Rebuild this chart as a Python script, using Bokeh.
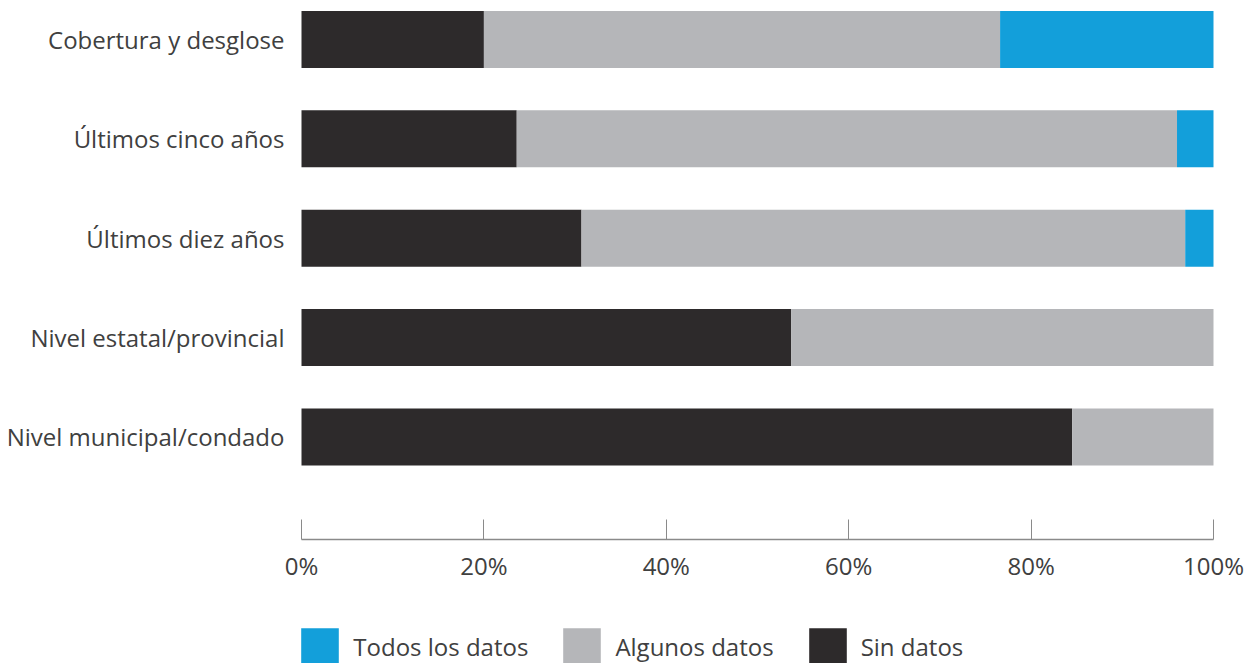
from bokeh.plotting import figure
from bokeh.models import (ColumnDataSource, Range1d, LinearAxis, FixedTicker,
                          Legend, LegendItem)
from bokeh.embed import file_html
from bokeh.resources import INLINE

# Share of respondents (%) per data dimension
categories = ["Cobertura y desglose", "Últimos cinco años", "Últimos diez años",
              "Nivel estatal/provincial", "Nivel municipal/condado"]
sin_datos = [20.0, 23.6, 30.7, 53.7, 84.5]
algunos_datos = [56.6, 72.4, 66.2, 46.3, 15.5]
todos_datos = [23.4, 4.0, 3.1, 0.0, 0.0]
x_ticks = [0, 20, 40, 60, 80, 100]
x_tick_labels = ["0%", "20%", "40%", "60%", "80%", "100%"]

series_names = ["Sin datos", "Algunos datos", "Todos los datos"]
colors = ["#2d2a2b", "#b5b6b9", "#139fda"]
FONT = "Open Sans"
TEXT = "#404040"

# The plot area spans the whole canvas; axes are pinned at data positions so
# the category labels, tick labels and legend all live inside it.
X_LEFT, X_RIGHT = -33.004, 105.044
Y_TOP, Y_BOTTOM = -0.392, 6.280
X_AXIS_AT = 5.031

source = ColumnDataSource(dict(
    y=list(range(len(categories))),
    sin=sin_datos,
    algunos=algunos_datos,
    todos=todos_datos,
))

p = figure(width=1259, height=663, output_backend="svg", toolbar_location=None,
           x_range=Range1d(X_LEFT, X_RIGHT), y_range=Range1d(Y_BOTTOM, Y_TOP),
           x_axis_location=None, y_axis_location=None,
           min_border_left=0, min_border_right=0,
           min_border_top=0, min_border_bottom=0)
p.outline_line_color = None
p.xgrid.visible = False
p.ygrid.visible = False
p.background_fill_color = "white"
p.border_fill_color = "white"

renderers = p.hbar_stack(["sin", "algunos", "todos"], y="y", height=0.574,
                         color=colors, line_color=None, source=source)

# Category labels to the left of the bars
yaxis = LinearAxis(ticker=FixedTicker(ticks=list(range(len(categories)))),
                   fixed_location=0, bounds=(0, len(categories) - 1),
                   major_label_overrides={i: c for i, c in enumerate(categories)})
yaxis.axis_line_color = None
yaxis.major_tick_line_color = None
yaxis.minor_tick_line_color = None
yaxis.major_tick_out = 0
yaxis.major_tick_in = 0
yaxis.major_label_standoff = 17
yaxis.major_label_text_font = FONT
yaxis.major_label_text_font_size = "24px"
yaxis.major_label_text_color = TEXT
p.add_layout(yaxis, "left")

# Percentage axis, ticks pointing up
xaxis = LinearAxis(ticker=FixedTicker(ticks=x_ticks), fixed_location=X_AXIS_AT,
                   bounds=(0, 100),
                   major_label_overrides={t: l for t, l in zip(x_ticks, x_tick_labels)})
xaxis.axis_line_color = "#8a8a8a"
xaxis.axis_line_width = 1.5
xaxis.major_tick_line_color = "#8a8a8a"
xaxis.major_tick_in = 20
xaxis.major_tick_out = 0
xaxis.minor_tick_line_color = None
xaxis.major_label_standoff = 10
xaxis.major_label_text_font = FONT
xaxis.major_label_text_font_size = "24px"
xaxis.major_label_text_color = TEXT
p.add_layout(xaxis, "below")

# Legend row under the axis
legend_order = [2, 1, 0]
legend = Legend(items=[LegendItem(label=series_names[i], renderers=[renderers[i]])
                       for i in legend_order],
                location=(296.3, -7.3), orientation="horizontal",
                glyph_width=47, glyph_height=47, padding=0, margin=0,
                label_standoff=10, spacing=30,
                label_text_font=FONT, label_text_font_size="24px",
                label_text_color=TEXT, border_line_color=None,
                background_fill_alpha=0)
p.add_layout(legend, "center")

open("out.html", "w").write(file_html(p, INLINE))
